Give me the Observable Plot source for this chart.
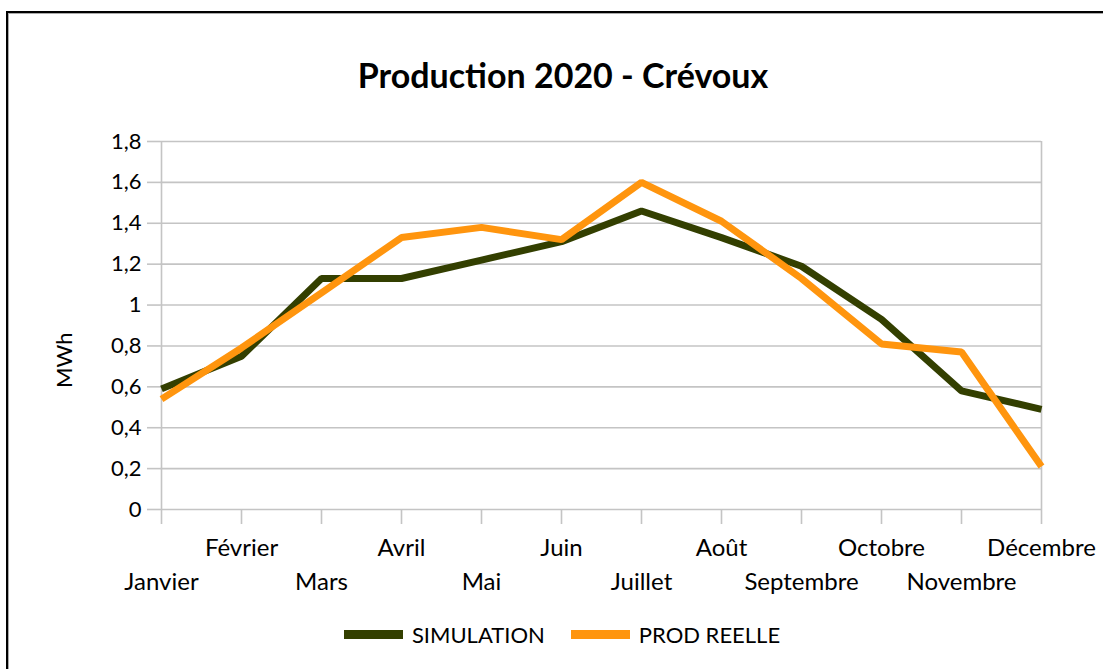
<!DOCTYPE html>
<html>
<head>
<meta charset="utf-8">
<script src="https://cdn.jsdelivr.net/npm/d3@7"></script>
<script src="https://cdn.jsdelivr.net/npm/@observablehq/plot@0.6"></script>
<style>
  html, body { margin: 0; padding: 0; background: #fff; overflow: hidden; width: 1103px; height: 669px; }
  body { font-family: Lato, "Open Sans", sans-serif; position: relative; }
  #frame { position: absolute; left: 6px; top: 11px; width: 1300px; height: 900px; border-left: 2px solid #000; border-top: 2px solid #000; box-shadow: inset 1px 1px 0 #aaa; }
  #title { position: absolute; left: 0; top: 54px; width: 1126px; text-align: center; font-weight: 700; font-size: 34px; line-height: 42px; color: #000; }
  #chart { position: absolute; left: 0; top: 130px; }
  #legend { position: absolute; left: 0; top: 618px; width: 1124px; height: 32px; display: flex; justify-content: center; align-items: center; font-size: 22px; color: #000; }
  .item { display: flex; align-items: center; margin: 0 13px; }
  .sw { width: 59px; height: 9px; margin-right: 9px; }
</style>
</head>
<body>
<div id="frame"></div>
<div id="title">Production 2020 - Crévoux</div>
<div id="chart"></div>
<div id="legend"></div>
<script>
const months = ["Janvier","Février","Mars","Avril","Mai","Juin","Juillet","Août","Septembre","Octobre","Novembre","Décembre"];
const simulation = [0.59, 0.75, 1.13, 1.13, 1.22, 1.31, 1.46, 1.33, 1.19, 0.93, 0.58, 0.49];
const prodReelle = [0.54, 0.79, 1.06, 1.33, 1.38, 1.32, 1.60, 1.41, 1.13, 0.81, 0.77, 0.21];
const yTicks = [0, 0.2, 0.4, 0.6, 0.8, 1, 1.2, 1.4, 1.6, 1.8];
const seriesNames = ["SIMULATION", "PROD REELLE"];
const seriesColors = ["#333f00", "#ff950e"];
const yLabel = "MWh";

const data = [];
months.forEach((m, i) => {
  data.push({month: m, value: simulation[i], series: seriesNames[0]});
});
months.forEach((m, i) => {
  data.push({month: m, value: prodReelle[i], series: seriesNames[1]});
});

const gray = "#c4c4c4";
const fmt = d => String(d).replace(".", ",");

const chart = Plot.plot({
  width: 1103,
  height: 480,
  marginLeft: 160,
  marginRight: 62,
  marginTop: 11,
  marginBottom: 101,
  x: {type: "point", domain: months, padding: 0},
  y: {domain: [0, 1.8]},
  color: {domain: seriesNames, range: seriesColors},
  style: {fontFamily: "Lato, 'Open Sans', sans-serif", fontSize: "22px", color: "#000", background: "transparent", overflow: "visible"},
  marks: [
    Plot.ruleY(yTicks, {stroke: gray, strokeWidth: 1.6}),
    Plot.ruleX([months[0], months[months.length - 1]], {stroke: gray, strokeWidth: 1.6}),
    Plot.axisY(yTicks, {tickSize: 13, tickPadding: 6, stroke: gray, strokeWidth: 1.6, fill: "#000", tickFormat: fmt, label: null, fontSize: 22}),
    Plot.axisX(months, {tickSize: 15, stroke: gray, strokeWidth: 1.6, tickFormat: () => "", label: null}),
    Plot.axisX(months.filter((d, i) => i % 2 === 1), {tickSize: 0, tickPadding: 29, fill: "#000", label: null, fontSize: 24}),
    Plot.axisX(months.filter((d, i) => i % 2 === 0), {tickSize: 0, tickPadding: 63, fill: "#000", label: null, fontSize: 24}),
    Plot.text([yLabel], {x: () => months[0], y: () => 0.73, text: d => d, dx: -97, rotate: -90, fontSize: 22, fill: "#000"}),
    Plot.line(data, {x: "month", y: "value", stroke: "series", z: "series", strokeWidth: 7, strokeLinejoin: "miter", strokeLinecap: "butt"})
  ]
});
document.getElementById("chart").appendChild(chart);

const legend = document.getElementById("legend");
seriesNames.forEach((name, i) => {
  const item = document.createElement("div");
  item.className = "item";
  const sw = document.createElement("div");
  sw.className = "sw";
  sw.style.background = seriesColors[i];
  const label = document.createElement("span");
  label.textContent = name;
  item.appendChild(sw);
  item.appendChild(label);
  legend.appendChild(item);
});
</script>
</body>
</html>
